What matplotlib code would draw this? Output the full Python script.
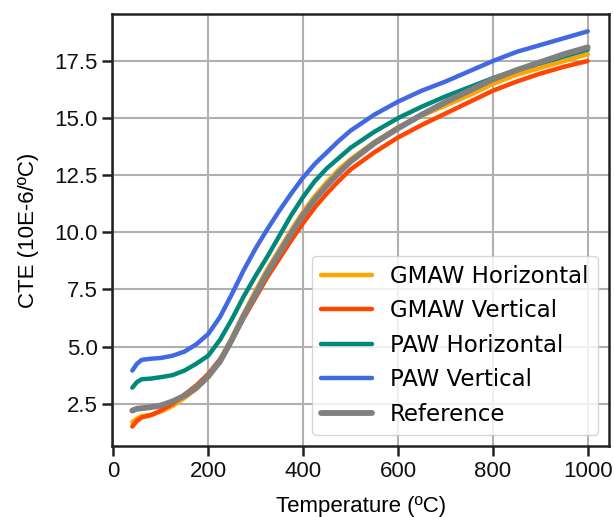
import matplotlib
matplotlib.use("Agg")
import matplotlib.pyplot as plt

temps = [40, 50, 60, 80, 100, 125, 150, 175, 200, 225, 250, 275, 300, 325, 350,
         375, 400, 425, 450, 475, 500, 550, 600, 650, 700, 750, 800, 850, 900, 950, 1000]

gmaw_h = [1.70, 1.85, 1.95, 2.02, 2.15, 2.40, 2.75, 3.15, 3.65, 4.40, 5.40, 6.45, 7.45, 8.40, 9.25,
          10.10, 10.90, 11.60, 12.20, 12.75, 13.20, 13.95, 14.60, 15.10, 15.55, 16.00, 16.50, 16.90, 17.20, 17.50, 17.80]
gmaw_v = [1.50, 1.75, 1.90, 2.00, 2.20, 2.50, 2.90, 3.30, 3.80, 4.45, 5.30, 6.25, 7.15, 8.05, 8.85,
          9.65, 10.40, 11.10, 11.70, 12.25, 12.75, 13.50, 14.15, 14.70, 15.20, 15.70, 16.20, 16.60, 16.95, 17.25, 17.50]
paw_h = [3.20, 3.45, 3.57, 3.60, 3.66, 3.75, 3.95, 4.25, 4.60, 5.30, 6.20, 7.20, 8.10, 8.95, 9.85,
         10.75, 11.55, 12.25, 12.80, 13.25, 13.70, 14.40, 15.00, 15.50, 15.95, 16.35, 16.75, 17.10, 17.40, 17.70, 18.00]
paw_v = [3.95, 4.25, 4.42, 4.47, 4.50, 4.60, 4.78, 5.10, 5.55, 6.30, 7.30, 8.35, 9.30, 10.15, 10.95,
         11.70, 12.40, 13.00, 13.50, 14.00, 14.45, 15.15, 15.72, 16.20, 16.60, 17.05, 17.50, 17.90, 18.20, 18.50, 18.80]
reference = [2.20, 2.28, 2.30, 2.35, 2.42, 2.60, 2.85, 3.20, 3.70, 4.35, 5.30, 6.35, 7.30, 8.25, 9.10,
             9.95, 10.75, 11.45, 12.05, 12.60, 13.10, 13.90, 14.55, 15.15, 15.70, 16.20, 16.70, 17.10, 17.45, 17.80, 18.10]

labels = ["GMAW Horizontal", "GMAW Vertical", "PAW Horizontal", "PAW Vertical", "Reference"]
colors = ["#FFA500", "#FF4500", "#00897B", "#4169E1", "#808080"]
series = [gmaw_h, gmaw_v, paw_h, paw_v, reference]
widths = [3.2, 3.2, 3.2, 3.2, 4.2]

xticks = [0, 200, 400, 600, 800, 1000]
yticks = [2.5, 5.0, 7.5, 10.0, 12.5, 15.0, 17.5]

plt.rcParams['font.family'] = ['Liberation Sans', 'DejaVu Sans']

fig = plt.figure(figsize=(6.14, 5.17), dpi=100)
ax = fig.add_axes([0.183, 0.137, 0.809, 0.836])

for vals, lab, col, lw in zip(series, labels, colors, widths):
    ax.plot(temps, vals, color=col, lw=lw, label=lab,
            solid_capstyle='round', solid_joinstyle='round')

ax.set_xlim(-2, 1045)
ax.set_ylim(0.64, 19.56)
ax.set_xticks(xticks)
ax.set_yticks(yticks)
ax.set_yticklabels([f"{v:.1f}" for v in yticks])
ax.grid(True, color="#b0b0b0", lw=1.5)
ax.set_axisbelow(True)
ax.tick_params(labelsize=16, length=7, width=1.8, color="#222222", labelcolor="#111111")
for s in ax.spines.values():
    s.set_linewidth(1.8)
    s.set_color("#222222")

ax.set_xlabel("Temperature (ºC)", fontsize=16, labelpad=10)
ax.set_ylabel("CTE (10E-6/ºC)", fontsize=16, labelpad=11)

leg = ax.legend(loc="lower right", prop={'family': 'DejaVu Sans', 'size': 16.5},
                handlelength=2.2, framealpha=0.8, labelspacing=0.5)

fig.savefig("out.png", dpi=100)
